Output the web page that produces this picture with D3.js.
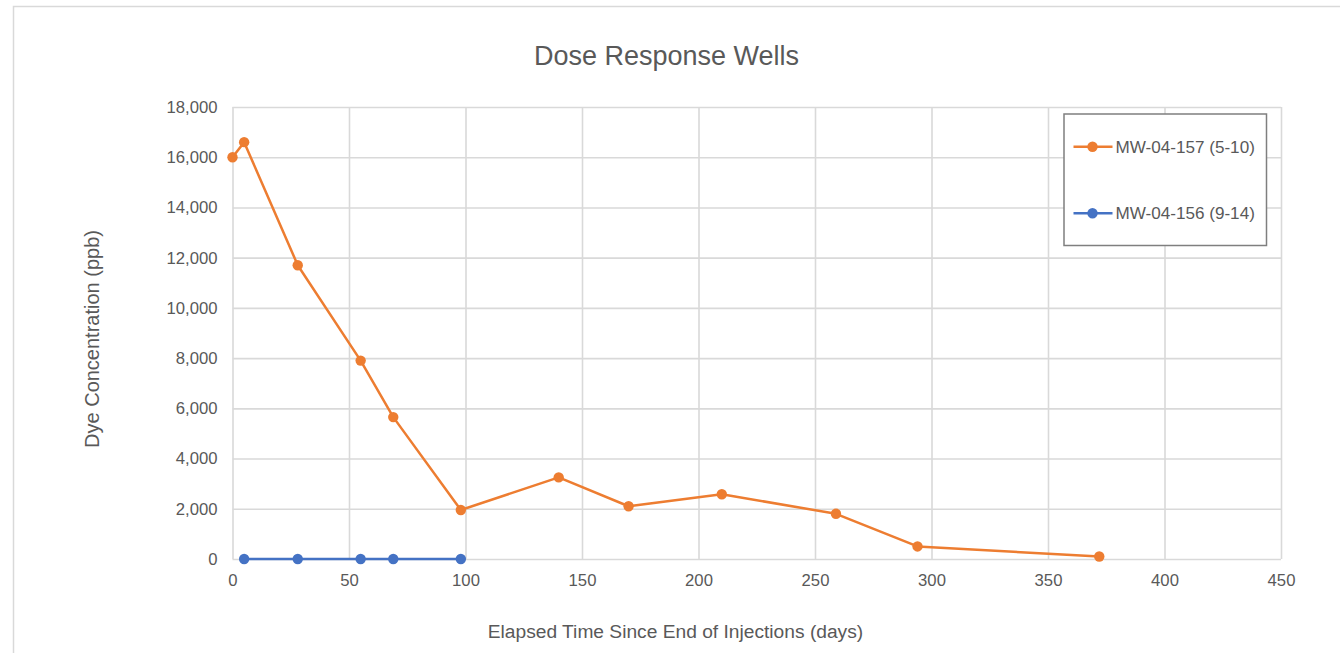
<!DOCTYPE html>
<html>
<head>
<meta charset="utf-8">
<script src="https://cdn.jsdelivr.net/npm/d3@7"></script>
<style>
  html, body { margin: 0; padding: 0; background: #fff; }
  svg { display: block; font-family: "Liberation Sans", Arial, sans-serif; }
</style>
</head>
<body>
<svg id="chart" width="1340" height="653"></svg>
<script>
// Elapsed days and dye concentrations (ppb) for each monitoring well
const daysMW157 = [0, 5, 28, 55, 69, 98, 140, 170, 210, 259, 294, 372];
const concMW157 = [16000, 16600, 11700, 7900, 5650, 1950, 3250, 2100, 2580, 1800, 500, 100];
const daysMW156 = [5, 28, 55, 69, 98];
const concMW156 = [0, 0, 0, 0, 0];

const seriesNames = ["MW-04-157 (5-10)", "MW-04-156 (9-14)"];
const seriesColors = ["#ED7D31", "#4472C4"];

const xTicks = [0, 50, 100, 150, 200, 250, 300, 350, 400, 450];
const yTicks = [0, 2000, 4000, 6000, 8000, 10000, 12000, 14000, 16000, 18000];

const titleText = "Dose Response Wells";
const xTitle = "Elapsed Time Since End of Injections (days)";
const yTitle = "Dye Concentration (ppb)";

const svg = d3.select("#chart");
const textColor = "#595959";
const gridColor = "#d9d9d9";

// chart frame
svg.append("rect")
  .attr("x", 13.5).attr("y", 6.5)
  .attr("width", 1400).attr("height", 700)
  .attr("fill", "#fff")
  .attr("stroke", "#d9d9d9").attr("stroke-width", 1.5);

const plot = { left: 232.5, right: 1281, top: 107, bottom: 559 };

const x = d3.scaleLinear().domain([0, 450]).range([plot.left, plot.right]);
const y = d3.scaleLinear().domain([0, 18000]).range([plot.bottom, plot.top]);

// gridlines and tick labels
const xAxis = d3.axisBottom(x).tickValues(xTicks).tickSize(-(plot.bottom - plot.top)).tickPadding(15)
  .tickFormat(d3.format("d"));
const yAxis = d3.axisLeft(y).tickValues(yTicks).tickSize(-(plot.right - plot.left)).tickPadding(15)
  .tickFormat(d3.format(","));

const gx = svg.append("g").attr("transform", `translate(0,${plot.bottom})`).call(xAxis);
const gy = svg.append("g").attr("transform", `translate(${plot.left},0)`).call(yAxis);

[gx, gy].forEach(g => {
  g.select(".domain").remove();
  g.selectAll(".tick line").attr("stroke", gridColor).attr("stroke-width", 1.6);
  g.selectAll(".tick text").attr("fill", textColor).attr("font-size", "16.7px")
    .attr("font-family", "'Liberation Sans', Arial, sans-serif");
});
gx.selectAll(".tick text").attr("dy", "0.71em");

// series
const series = [
  { name: seriesNames[0], color: seriesColors[0], xs: daysMW157, ys: concMW157 },
  { name: seriesNames[1], color: seriesColors[1], xs: daysMW156, ys: concMW156 }
];

const line = d3.line().x(d => x(d[0])).y(d => y(d[1]));

// draw blue first so orange sits on top
[series[1], series[0]].forEach(s => {
  const pts = s.xs.map((d, i) => [d, s.ys[i]]);
  svg.append("path").datum(pts)
    .attr("d", line)
    .attr("fill", "none")
    .attr("stroke", s.color)
    .attr("stroke-width", 2.5)
    .attr("stroke-linejoin", "round");
  svg.append("g").selectAll("circle").data(pts).join("circle")
    .attr("cx", d => x(d[0])).attr("cy", d => y(d[1]))
    .attr("r", 5.2).attr("fill", s.color);
});

// title
svg.append("text")
  .attr("x", 666.5).attr("y", 64.5)
  .attr("text-anchor", "middle")
  .attr("fill", textColor).attr("font-size", "27px")
  .text(titleText);

// axis titles
svg.append("text")
  .attr("x", 675.5).attr("y", 638)
  .attr("text-anchor", "middle")
  .attr("fill", textColor).attr("font-size", "19.2px")
  .text(xTitle);

svg.append("text")
  .attr("transform", "translate(99,339) rotate(-90)")
  .attr("text-anchor", "middle")
  .attr("fill", textColor).attr("font-size", "20px")
  .text(yTitle);

// legend
const legend = svg.append("g");
legend.append("rect")
  .attr("x", 1064).attr("y", 114)
  .attr("width", 202.5).attr("height", 131.5)
  .attr("fill", "#fff")
  .attr("stroke", "#7f7f7f").attr("stroke-width", 1.5);

const legendRows = [146.7, 213.3];
series.forEach((s, i) => {
  const ly = legendRows[i];
  legend.append("line")
    .attr("x1", 1073.5).attr("x2", 1112.5)
    .attr("y1", ly).attr("y2", ly)
    .attr("stroke", s.color).attr("stroke-width", 2.5);
  legend.append("circle")
    .attr("cx", 1092.5).attr("cy", ly).attr("r", 5.2).attr("fill", s.color);
  legend.append("text")
    .attr("x", 1115.5).attr("y", ly)
    .attr("dy", "0.35em")
    .attr("fill", textColor).attr("font-size", "17.1px")
    .text(s.name);
});
</script>
</body>
</html>
